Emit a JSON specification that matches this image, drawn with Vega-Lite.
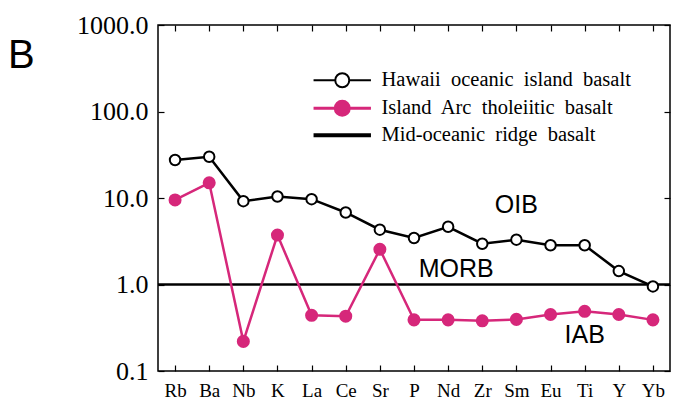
{
  "$schema": "https://vega.github.io/schema/vega-lite/v6.json",
  "width": 512,
  "height": 346,
  "padding": {"left": 8, "top": 12, "right": 7, "bottom": 5},
  "background": "white",
  "title": {"text": "B", "font": "Liberation Sans", "fontSize": 40, "fontWeight": "normal", "anchor": "start", "frame": "group", "dx": -150, "dy": 68, "baseline": "top", "color": "black"},
  "config": {
    "view": {"stroke": "black", "strokeWidth": 1.5},
    "axis": {"domain": false, "tickColor": "black", "labelColor": "black", "labelFont": "Liberation Serif", "labelFontWeight": "normal", "grid": false, "title": null, "tickWidth": 1.2, "tickSize": 6, "offset": -6}
  },
  "datasets": {
    "elements": [
      {"element": "Rb", "series": "OIB", "value": 27.5},
      {"element": "Ba", "series": "OIB", "value": 30},
      {"element": "Nb", "series": "OIB", "value": 9.2},
      {"element": "K", "series": "OIB", "value": 10.4},
      {"element": "La", "series": "OIB", "value": 9.7},
      {"element": "Ce", "series": "OIB", "value": 6.8},
      {"element": "Sr", "series": "OIB", "value": 4.3},
      {"element": "P", "series": "OIB", "value": 3.45},
      {"element": "Nd", "series": "OIB", "value": 4.65},
      {"element": "Zr", "series": "OIB", "value": 2.96},
      {"element": "Sm", "series": "OIB", "value": 3.3},
      {"element": "Eu", "series": "OIB", "value": 2.84},
      {"element": "Ti", "series": "OIB", "value": 2.84},
      {"element": "Y", "series": "OIB", "value": 1.43},
      {"element": "Yb", "series": "OIB", "value": 0.95},
      {"element": "Rb", "series": "IAB", "value": 9.5},
      {"element": "Ba", "series": "IAB", "value": 15},
      {"element": "Nb", "series": "IAB", "value": 0.22},
      {"element": "K", "series": "IAB", "value": 3.73},
      {"element": "La", "series": "IAB", "value": 0.44},
      {"element": "Ce", "series": "IAB", "value": 0.43},
      {"element": "Sr", "series": "IAB", "value": 2.55},
      {"element": "P", "series": "IAB", "value": 0.39},
      {"element": "Nd", "series": "IAB", "value": 0.39},
      {"element": "Zr", "series": "IAB", "value": 0.38},
      {"element": "Sm", "series": "IAB", "value": 0.395},
      {"element": "Eu", "series": "IAB", "value": 0.45},
      {"element": "Ti", "series": "IAB", "value": 0.49},
      {"element": "Y", "series": "IAB", "value": 0.45},
      {"element": "Yb", "series": "IAB", "value": 0.39}
    ],
    "labels": [
      {"element": "Sm", "value": 8.3, "text": "OIB"},
      {"element": "Ti", "value": 0.26, "text": "IAB"}
    ],
    "morb": [
      {"element": "Nd", "value": 1.5, "text": "MORB"}
    ]
  },
  "encoding": {
    "x": {"field": "element", "type": "nominal", "sort": null, "axis": null,
      "scale": {"type": "point", "padding": 0.5, "domain": ["Rb","Ba","Nb","K","La","Ce","Sr","P","Nd","Zr","Sm","Eu","Ti","Y","Yb"]}},
    "y": {"field": "value", "type": "quantitative", "axis": null,
      "scale": {"type": "log", "domain": [0.1, 1000]}}
  },
  "layer": [
    {
      "data": {"values": [{"ref": 1}]},
      "mark": {"type": "rule", "color": "black", "strokeWidth": 2.5},
      "encoding": {"x": null, "y": {"field": "ref", "type": "quantitative", "axis": null}}
    },
    {
      "data": {"name": "elements"},
      "mark": {"type": "line", "strokeWidth": 2.5},
      "encoding": {
        "color": {"field": "series", "type": "nominal",
          "scale": {"domain": ["OIB", "IAB", "MORB"], "range": ["black", "#d6277a", "black"]},
          "legend": {"orient": "none", "legendX": 174, "legendY": 45, "title": null, "labelFont": "Liberation Serif", "labelFontSize": 20.5, "labelColor": "black", "labelLimit": 0,
            "labelExpr": "datum.label === 'OIB' ? 'Hawaii\u00a0 oceanic\u00a0 island\u00a0 basalt' : (datum.label === 'IAB' ? 'Island\u00a0 Arc\u00a0 tholeiitic\u00a0 basalt' : 'Mid-oceanic\u00a0 ridge\u00a0 basalt')",
            "symbolSize": 196, "labelOffset": 29, "rowPadding": 3,
            "encode": {"symbols": {"update": {
              "shape": {"signal": "datum.value === 'MORB' ? 'M-4.1,0H1M-1,0H4.1' : 'M-4.1,0H-1M1,0H4.1M1,0A1,1 0 1,1 -1,0A1,1 0 1,1 1,0Z'"},
              "fill": {"signal": "datum.value === 'OIB' ? 'white' : (datum.value === 'IAB' ? '#d6277a' : 'transparent')"},
              "strokeWidth": {"signal": "datum.value === 'MORB' ? 4 : (datum.value === 'IAB' ? 3 : 2)"},
              "opacity": {"value": 1}
            }}}}
        }
      }
    },
    {
      "data": {"name": "elements"},
      "transform": [{"filter": "datum.series === 'IAB'"}],
      "mark": {"type": "point", "filled": true, "color": "#d6277a", "size": 170, "opacity": 1}
    },
    {
      "data": {"name": "elements"},
      "transform": [{"filter": "datum.series === 'OIB'"}],
      "mark": {"type": "point", "filled": false, "fill": "white", "stroke": "black", "strokeWidth": 2, "size": 110, "opacity": 1}
    },
    {
      "data": {"name": "labels"},
      "mark": {"type": "text", "font": "Liberation Sans", "fontSize": 25, "color": "black", "align": "center", "baseline": "middle"},
      "encoding": {"text": {"field": "text"}}
    },
    {
      "data": {"name": "morb"},
      "mark": {"type": "text", "font": "Liberation Sans", "fontSize": 25, "color": "black", "align": "center", "baseline": "middle", "dx": 8},
      "encoding": {"text": {"field": "text"}}
    },
    {
      "data": {"name": "elements"},
      "mark": {"type": "point", "opacity": 0},
      "encoding": {
        "x": {"field": "element", "type": "nominal", "sort": null,
          "axis": {"orient": "bottom", "labelAngle": 0, "labelFontSize": 19, "labelPadding": 10}},
        "y": {"field": "value", "type": "quantitative",
          "axis": {"orient": "left", "values": [0.1, 1, 10, 100, 1000], "format": ".1f", "labelFontSize": 26, "labelPadding": 10}}
      }
    },
    {
      "data": {"name": "elements"},
      "mark": {"type": "point", "opacity": 0},
      "encoding": {
        "x": {"field": "element", "type": "nominal", "sort": null,
          "axis": {"orient": "top", "labels": false}},
        "y": {"field": "value", "type": "quantitative",
          "axis": {"orient": "right", "labels": false, "values": [0.1, 1, 10, 100, 1000]}}
      }
    }
  ],
  "resolve": {"axis": {"x": "independent", "y": "independent"}}
}
